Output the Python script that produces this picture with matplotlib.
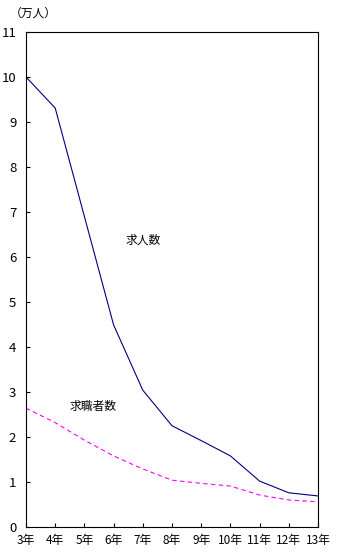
import matplotlib.pyplot as plt

plt.rcParams['font.family'] = ['Noto Sans CJK JP', 'DejaVu Sans']

# Data
years = [3, 4, 5, 6, 7, 8, 9, 10, 11, 12, 13]
year_labels = [f"{y}年" for y in years]
job_offers = [10.0, 9.31, 6.9, 4.49, 3.04, 2.25, 1.92, 1.58, 1.02, 0.76, 0.69]
job_seekers = [2.64, 2.32, 1.93, 1.58, 1.29, 1.04, 0.97, 0.91, 0.71, 0.60, 0.56]

# Figure
fig = plt.figure(figsize=(3.38, 5.53), dpi=100)
ax = fig.add_axes([26 / 338, 1 - 527 / 553, 292 / 338, 495 / 553])

ax.plot(years, job_offers, color='#000080', lw=0.8)
ax.plot(years, job_seekers, color='#FF00FF', lw=0.8, ls=(0, (4, 3)))

ax.set_xlim(3, 13)
ax.set_ylim(0, 11)
ax.set_xticks(years)
ax.set_xticklabels(year_labels)
ax.set_yticks(range(0, 12))
ax.tick_params(direction='in', length=3, width=0.8)
ax.tick_params(axis='y', pad=7, labelsize=9.5)
ax.tick_params(axis='x', pad=5, labelsize=8.5)
for s in ax.spines.values():
    s.set_linewidth(0.8)

ax.text(7.0, 6.38, "求人数", fontsize=8.5, ha='center', va='center')
ax.text(5.3, 2.67, "求職者数", fontsize=8.5, ha='center', va='center')
fig.text(10 / 338, 1 - 13 / 553, "（万人）", fontsize=8.5, ha='left', va='center')

plt.savefig("out.png", dpi=100)
